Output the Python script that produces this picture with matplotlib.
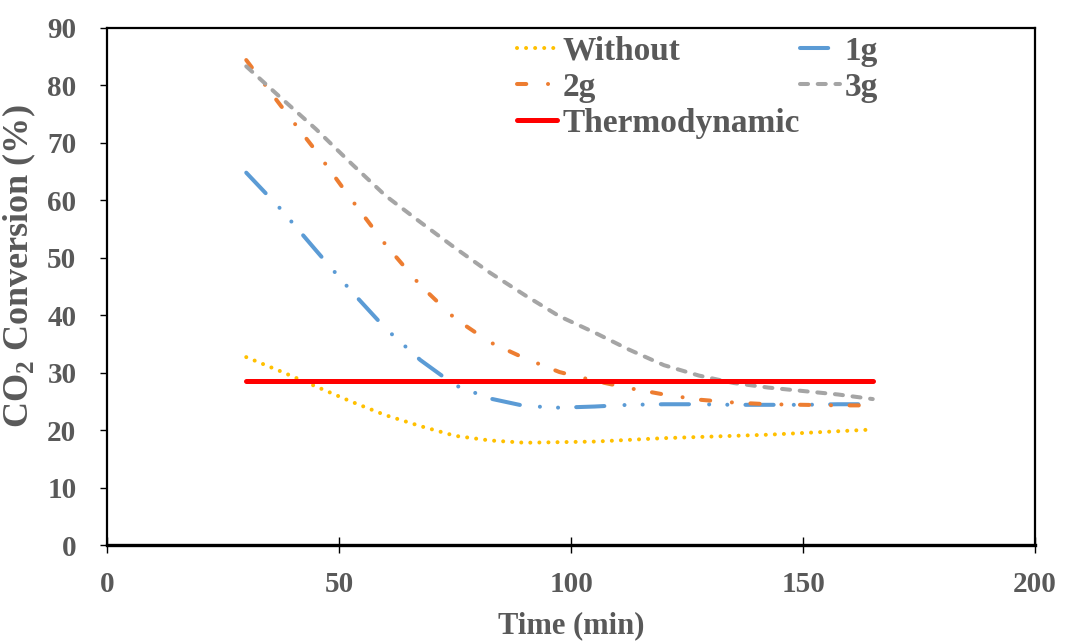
import numpy as np
import matplotlib
matplotlib.use("Agg")
import matplotlib.pyplot as plt

# data (every 7.5 min)
time = [30, 37.5, 45, 52.5, 60, 67.5, 75, 82.5, 90, 97.5, 105,
        112.5, 120, 127.5, 135, 142.5, 150, 157.5, 165]
without = [32.7, 30.2, 27.6, 25.0, 22.6, 20.7, 19.0, 18.2, 17.8, 17.9, 18.0,
           18.3, 18.6, 18.8, 19.0, 19.2, 19.5, 19.8, 20.1]
g1 = [64.8, 58.4, 51.3, 44.3, 37.7, 32.2, 27.8, 25.5, 24.2, 23.9, 24.1,
      24.4, 24.5, 24.5, 24.4, 24.4, 24.4, 24.5, 24.5]
g2 = [84.4, 76.4, 68.6, 60.3, 52.3, 45.2, 39.4, 35.3, 32.5, 30.1, 28.6,
      27.3, 26.2, 25.3, 24.8, 24.5, 24.4, 24.3, 24.3]
g3 = [83.3, 77.8, 72.4, 66.5, 60.8, 56.2, 51.7, 47.4, 43.5, 39.8, 37.0,
      34.0, 31.3, 29.5, 28.2, 27.4, 26.8, 26.2, 25.4]
thermo_t = [30, 165]
thermo = [28.55, 28.55]

grey = "#595959"
plt.rcParams['font.family'] = ['Liberation Serif', 'DejaVu Serif']
plt.rcParams['font.weight'] = 'bold'
plt.rcParams['axes.labelweight'] = 'bold'
plt.rcParams['mathtext.fontset'] = 'custom'
plt.rcParams['mathtext.rm'] = 'Liberation Serif:bold'
plt.rcParams['mathtext.bf'] = 'Liberation Serif:bold'

fig = plt.figure(figsize=(10.65, 6.44), dpi=100)
ax = fig.add_axes([0.1005, 0.1537, 0.8715, 0.803])

lw = 2.9
l1, = ax.plot(time, without, color="#FFC000", lw=lw, linestyle=(0, (0.01, 2.24)),
              dash_capstyle="round", label="Without")
l2, = ax.plot(time, g1, color="#5B9BD5", lw=lw, linestyle=(0, (7, 5, 0.01, 4.5, 0.01, 4.5)),
              dash_capstyle="round", label="1g")
l3, = ax.plot(time, g2, color="#ED7D31", lw=lw, linestyle=(0, (2.3, 5.4, 0.01, 4.6)),
              dash_capstyle="round", label="2g")
l4, = ax.plot(time, g3, color="#A5A5A5", lw=lw, linestyle=(0, (2.0, 2.4)),
              dash_capstyle="round", label="3g")
l5, = ax.plot(thermo_t, thermo, color="#FF0000", lw=3.6, solid_capstyle="round",
              label="Thermodynamic")

ax.set_xlim(0, 200)
ax.set_ylim(0, 90)
ax.set_xticks(np.arange(0, 201, 50))
ax.set_yticks(np.arange(0, 91, 10))
ax.tick_params(axis='x', direction='inout', length=11, width=1, colors='black',
               labelcolor=grey, labelsize=21, pad=13)
ax.tick_params(axis='y', direction='out', length=5, width=1, colors='black',
               labelcolor=grey, labelsize=21, pad=17)
for s in ax.spines.values():
    s.set_linewidth(1.6)
    s.set_color('black')
ax.spines['bottom'].set_linewidth(2.4)

ax.set_xlabel("Time (min)", fontsize=22, color=grey, labelpad=10)
ax.set_ylabel(r"CO$_\mathrm{2}$ Conversion (%)", fontsize=26, color=grey)
ax.yaxis.set_label_coords(-0.074, 0.54)

# row-wise order like the reference: Without 1g / 2g 3g / Thermodynamic
leg = ax.legend(handles=[l1, l3, l5, l2, l4], ncol=2, frameon=False,
                loc='upper left', bbox_to_anchor=(0.442, 0.985), fontsize=24,
                handlelength=1.2, handletextpad=0.15, columnspacing=0.0,
                labelspacing=0.15, borderpad=0, borderaxespad=0)
for t in leg.get_texts():
    t.set_color(grey)

fig.savefig("out.png", dpi=100)
